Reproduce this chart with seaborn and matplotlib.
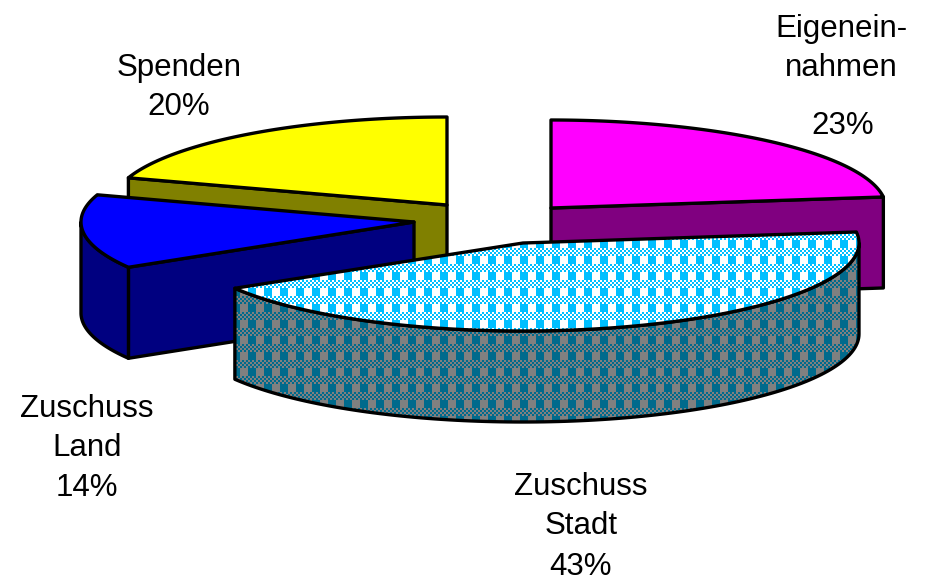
import numpy as np
import matplotlib
matplotlib.use('Agg')
import matplotlib.pyplot as plt
from matplotlib.patches import Polygon
import seaborn as sns

names = ['Eigeneinnahmen', 'Zuschuss Stadt', 'Zuschuss Land', 'Spenden']
shares = [23, 43.4, 13.6, 20]
label_lines = [['Eigenein-', 'nahmen'], ['Zuschuss', 'Stadt'], ['Zuschuss', 'Land'], ['Spenden']]

top_cols = ['#FF00FF', None, '#0000FF', '#FFFF00']
side_cols = ['#800080', None, '#000080', '#808000']

# pie look: centre of each exploded slice, radii, height
centers = [(551, 208), (523, 243), (414, 222), (447, 205)]
rx = [335, 336, 333, 335]
ry = 88
depth = 91
draw_order = [3, 0, 2, 1]

# label anchors (x centre, y of first line) and the percent line
label_pos = [(841, 29), (581, 487), (87, 409), (179, 68)]
pct_pos = [(843, 126), (581, 567), (87, 488), (179, 107)]

sns.set_theme(style='white')
plt.rcParams['font.family'] = ['Liberation Sans', 'DejaVu Sans']

fig = plt.figure(figsize=(9.26, 5.81), dpi=100)
ax = fig.add_axes([0, 0, 1, 1])


def gingham(c1, c2, w, h):
    # 16px tile: two colour columns on top, fine dither band below
    tile = np.zeros((16, 16, 3))
    c1 = np.array(matplotlib.colors.to_rgb(c1))
    c2 = np.array(matplotlib.colors.to_rgb(c2))
    for r in range(16):
        for c in range(16):
            if r < 8:
                tile[r, c] = c1 if c < 8 else c2
            else:
                tile[r, c] = c1 if (r // 2 + c // 2) % 2 == 0 else c2
    return np.tile(tile, (h // 16 + 1, w // 16 + 1, 1))[:h, :w]


def rim(i, t):
    t = np.radians(t)
    cx, cy = centers[i]
    return np.column_stack([cx + rx[i] * np.sin(t), cy - ry * np.cos(t)])


def fill_pattern(pts, c1, c2, z):
    outline = Polygon(pts, closed=True, fc='none', ec='black', lw=2.4, zorder=z + 0.5, joinstyle='round')
    ax.add_patch(outline)
    im = ax.imshow(gingham(c1, c2, 926, 581), extent=(0, 926, 581, 0), interpolation='nearest',
                   aspect='auto', zorder=z)
    clip = Polygon(pts, closed=True, transform=ax.transData)
    im.set_clip_path(clip)


edges = np.cumsum([0] + shares) * 3.6
z = 1
for i in draw_order:
    t1, t2 = edges[i], edges[i + 1]
    cx, cy = centers[i]
    ts = np.linspace(t1, t2, 120)
    top = np.vstack([[cx, cy], rim(i, ts)])

    # cut faces towards the viewer
    for t, show in ((t1, np.sin(np.radians(t1)) < -1e-6), (t2, np.sin(np.radians(t2)) > 1e-6)):
        if show:
            p = rim(i, np.array([t]))[0]
            face = [(cx, cy), p, (p[0], p[1] + depth), (cx, cy + depth)]
            ax.add_patch(Polygon(face, closed=True, fc=side_cols[i], ec='black', lw=2.4, zorder=z, joinstyle='round'))
            z += 1

    # outer wall, only the front half of the rim
    a, b = max(t1, 90), min(t2, 270)
    if a < b:
        arc = rim(i, np.linspace(a, b, 120))
        wall = np.vstack([arc, (arc + [0, depth])[::-1]])
        if side_cols[i] is None:
            fill_pattern(wall, '#808080', '#006A8C', z)
        else:
            ax.add_patch(Polygon(wall, closed=True, fc=side_cols[i], ec='black', lw=2.4, zorder=z, joinstyle='round'))
        z += 1

    if top_cols[i] is None:
        fill_pattern(top, '#FFFFFF', '#00BFFF', z)
    else:
        ax.add_patch(Polygon(top, closed=True, fc=top_cols[i], ec='black', lw=2.4, zorder=z, joinstyle='round'))
    z += 1

for lines, (x, y), share, (px, py) in zip(label_lines, label_pos, shares, pct_pos):
    for k, line in enumerate(lines):
        ax.text(x, y + k * 39.5, line, ha='center', va='center', fontsize=22.5, color='black', zorder=50)
    ax.text(px, py, f'{round(share)}%', ha='center', va='center', fontsize=22.5, color='black', zorder=50)

ax.set_xlim(0, 926)
ax.set_ylim(581, 0)
ax.set_xticks([])
ax.set_yticks([])
sns.despine(ax=ax, left=True, bottom=True)

fig.savefig('out.png', dpi=100)
